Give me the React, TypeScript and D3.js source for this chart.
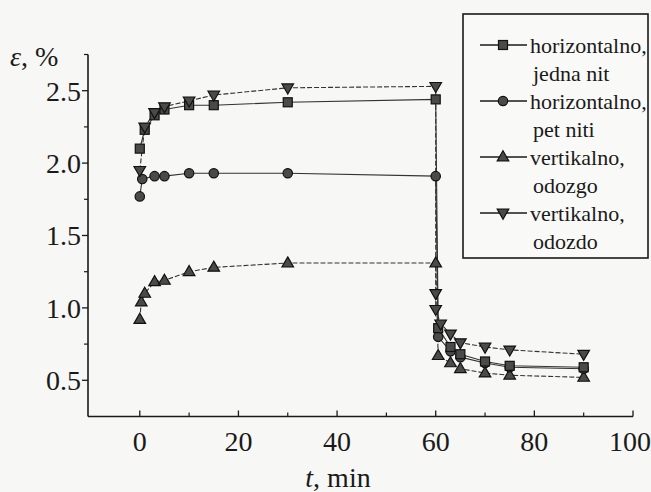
import React from 'react';
import * as d3 from 'd3';

const W = 651;
const H = 492;

// time, min
const tSquare = [0, 1, 3, 5, 10, 15, 30, 60, 60.5, 63, 65, 70, 75, 90];
const eSquare = [2.10, 2.23, 2.33, 2.37, 2.40, 2.40, 2.42, 2.44, 0.86, 0.73, 0.68, 0.63, 0.60, 0.59];

const tCircle = [0, 0.5, 3, 5, 10, 15, 30, 60, 60.5, 63, 65, 70, 75, 90];
const eCircle = [1.77, 1.89, 1.91, 1.91, 1.93, 1.93, 1.93, 1.91, 0.80, 0.70, 0.66, 0.62, 0.59, 0.58];

const tUp = [0, 0.3, 1, 3, 5, 10, 15, 30, 60, 60.5, 63, 65, 70, 75, 90];
const eUp = [0.92, 1.04, 1.10, 1.18, 1.19, 1.25, 1.28, 1.31, 1.31, 0.67, 0.62, 0.58, 0.55, 0.535, 0.52];

const tDown = [0, 1, 3, 5, 10, 15, 30, 60, 60, 60, 61, 63, 65, 70, 75, 90];
const eDown = [1.95, 2.25, 2.35, 2.39, 2.43, 2.47, 2.52, 2.53, 1.10, 0.99, 0.89, 0.82, 0.76, 0.73, 0.71, 0.68];

const legendLabels = [
  ['horizontalno,', 'jedna nit'],
  ['horizontalno,', 'pet niti'],
  ['vertikalno,', 'odozgo'],
  ['vertikalno,', 'odozdo'],
];

const xMajor = [0, 20, 40, 60, 80, 100];
const xMinor = [10, 30, 50, 70, 90];
const yMajor = [0.5, 1.0, 1.5, 2.0, 2.5];
const yMinor = [0.75, 1.25, 1.75, 2.25, 2.75];

const FONT = "'Liberation Serif'";
const INK = '#1a1a1a';

type Kind = 'square' | 'circle' | 'up' | 'down';

function Marker({ kind, x, y }: { kind: Kind; x: number; y: number }) {
  const fill = '#4a4a4a';
  const stroke = '#111';
  if (kind === 'square') {
    return <rect x={x - 4.5} y={y - 4.5} width={9} height={9} fill={fill} stroke={stroke} strokeWidth={1.2} />;
  }
  if (kind === 'circle') {
    return <circle cx={x} cy={y} r={4.7} fill={fill} stroke={stroke} strokeWidth={1.2} />;
  }
  const p = d3.symbol().type(d3.symbolTriangle).size(58)() as string;
  return (
    <path
      d={p}
      transform={`translate(${x},${y + (kind === 'up' ? 0.5 : -0.5)}) rotate(${kind === 'up' ? 0 : 180})`}
      fill={fill}
      stroke={stroke}
      strokeWidth={1.2}
    />
  );
}

const txt = (size: number, italic = false): React.CSSProperties => ({
  fontFamily: FONT,
  fontSize: size + 'px',
  fontStyle: italic ? 'italic' : 'normal',
});

export default function App() {
  const x = d3.scaleLinear().domain([-10.5, 100]).range([88, 633]);
  const y = d3.scaleLinear().domain([0.25, 2.75]).range([416.5, 54.5]);
  const x0 = x(-10.5);
  const y0 = y(0.25);

  const series: { kind: Kind; t: number[]; e: number[]; dash?: string }[] = [
    { kind: 'up', t: tUp, e: eUp, dash: '5,2' },
    { kind: 'circle', t: tCircle, e: eCircle },
    { kind: 'square', t: tSquare, e: eSquare },
    { kind: 'down', t: tDown, e: eDown, dash: '5,2' },
  ];
  const line = d3
    .line<[number, number]>()
    .x((d) => x(d[0]))
    .y((d) => y(d[1]));

  const legendKinds: Kind[] = ['square', 'circle', 'up', 'down'];
  const lgTop = 53;
  const lgStep = 28;

  return (
    <div style={{ position: 'fixed', left: 0, top: 0 }}>
      <svg width={W} height={H} style={{ display: 'block', background: '#f7f7f5' }}>
        <rect x={0} y={0} width={W} height={H} fill="#f7f7f5" />
        {/* axes */}
        <line x1={x0} x2={x0} y1={y0} y2={y(2.75)} stroke={INK} strokeWidth={1.6} />
        <line x1={x0} x2={x(100)} y1={y0} y2={y0} stroke={INK} strokeWidth={1.6} />
        {yMajor.map((v) => (
          <g key={'ym' + v}>
            <line x1={x0 - 6} x2={x0} y1={y(v)} y2={y(v)} stroke={INK} strokeWidth={1.3} />
            <text x={x0 - 7} y={y(v)} dy="0.35em" textAnchor="end" style={txt(28)} fill={INK}>
              {v.toFixed(1)}
            </text>
          </g>
        ))}
        {yMinor.map((v) => (
          <line key={'yn' + v} x1={x0 - 4} x2={x0} y1={y(v)} y2={y(v)} stroke={INK} strokeWidth={1.2} />
        ))}
        {xMajor.map((v) => (
          <g key={'xm' + v}>
            <line x1={x(v)} x2={x(v)} y1={y0} y2={y0 - 6} stroke={INK} strokeWidth={1.3} />
            <text x={Math.min(x(v), 630)} y={451} textAnchor="middle" style={txt(28)} fill={INK}>
              {v}
            </text>
          </g>
        ))}
        {xMinor.map((v) => (
          <line key={'xn' + v} x1={x(v)} x2={x(v)} y1={y0} y2={y0 - 4} stroke={INK} strokeWidth={1.2} />
        ))}
        {/* axis titles */}
        <text x={10} y={66} style={txt(28)} fill={INK}>
          <tspan style={txt(28, true)}>ε</tspan>, %
        </text>
        <text x={338} y={487} textAnchor="middle" style={txt(28)} fill={INK}>
          <tspan style={txt(28, true)}>t</tspan>, min
        </text>

        {/* lines */}
        {series.map((s, i) => (
          <path
            key={'l' + i}
            d={line(s.t.map((t, j) => [t, s.e[j]] as [number, number])) as string}
            fill="none"
            stroke="#333"
            strokeWidth={1.1}
            strokeDasharray={s.dash}
          />
        ))}
        {/* markers */}
        {series.map((s, i) =>
          s.t.map((t, j) => <Marker key={'m' + i + '-' + j} kind={s.kind} x={x(t)} y={y(s.e[j])} />)
        )}

        {/* legend */}
        <rect x={463} y={14} width={185} height={244} fill="#f9f9f7" stroke={INK} strokeWidth={1.6} />
        {legendKinds.map((k, i) => {
          const by = lgTop + i * 2 * lgStep;
          const cy = by - 8;
          return (
            <g key={'lg' + i}>
              <line x1={480} x2={527} y1={cy} y2={cy} stroke={INK} strokeWidth={1.3} />
              <Marker kind={k} x={503} y={cy} />
              <text x={530} y={by} style={txt(22)} fill={INK}>
                {legendLabels[i][0]}
              </text>
              <text x={533} y={by + lgStep} style={txt(22)} fill={INK}>
                {legendLabels[i][1]}
              </text>
            </g>
          );
        })}
      </svg>
    </div>
  );
}
